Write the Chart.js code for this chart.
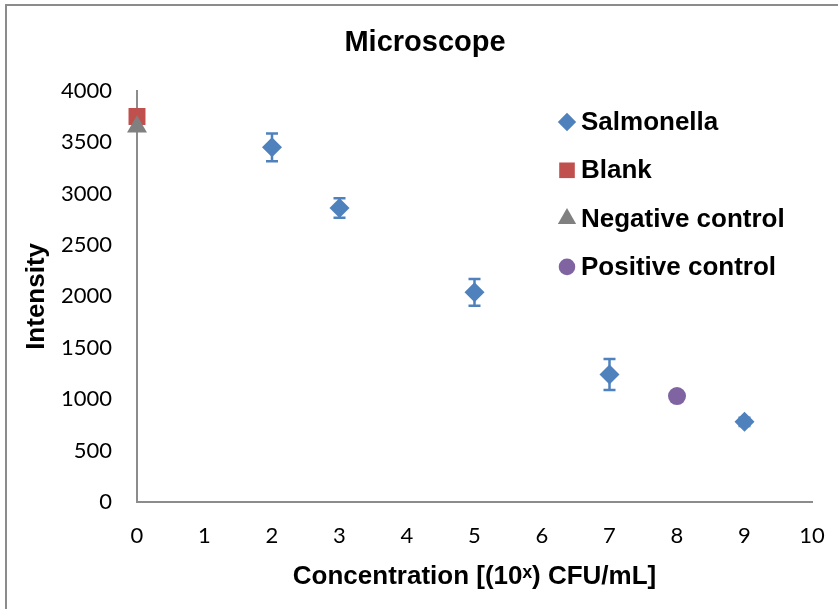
<!DOCTYPE html>
<html>
<head>
<meta charset="utf-8">
<script src="https://cdn.jsdelivr.net/npm/chart.js@4/dist/chart.umd.min.js"></script>
<style>
  html, body { margin: 0; padding: 0; background: #fff; }
  #wrap { position: relative; width: 838px; height: 609px; overflow: hidden; }
  #frame { position: absolute; left: 5px; top: 4px; width: 900px; height: 700px; border: 2px solid #8c8c8c; box-sizing: border-box; }
  canvas { position: absolute; left: 0; top: 0; }
</style>
</head>
<body>
<div id="wrap">
  <div id="frame"></div>
  <canvas id="chart" width="838" height="609"></canvas>
</div>
<script>
// values
const salmonellaX = [2, 3, 5, 7, 9];
const salmonellaY = [3450, 2860, 2040, 1240, 780];
const salmonellaErr = [135, 95, 130, 150, 40];
const blankX = [0];
const blankY = [3750];
const negativeX = [0];
const negativeY = [3650];
const positiveX = [8];
const positiveY = [1030];

const xTicks = [0, 10, 1];        // min, max, step
const yTicks = [0, 4000, 500];

// order: lower number is painted on top (triangle sits over the square)
const series = [
  { label: 'Salmonella', xs: salmonellaX, ys: salmonellaY, err: salmonellaErr, color: '#4f81bd', style: 'rectRot', r: 10, order: 0 },
  { label: 'Blank', xs: blankX, ys: blankY, color: '#c0504d', style: 'rect', r: 12, order: 3 },
  { label: 'Negative control', xs: negativeX, ys: negativeY, color: '#808080', style: 'triangle', r: 11.5, order: 2 },
  { label: 'Positive control', xs: positiveX, ys: positiveY, color: '#8064a2', style: 'circle', r: 9, order: 1 }
];

const tickFont = { family: 'Lato', size: 22 };
const boldFont = (s) => ({ family: '"Liberation Sans", Arial, sans-serif', size: s, weight: 'bold' });
const plain = (v) => String(v);

// error bars, drawn under the markers
const errorBars = {
  id: 'errorBars',
  beforeDatasetsDraw(chart) {
    const { ctx, scales: { x, y } } = chart;
    chart.data.datasets.forEach(ds => {
      if (!ds.errors) return;
      ctx.save();
      ctx.strokeStyle = ds.backgroundColor;
      ctx.lineWidth = 2.5;
      ds.data.forEach((p, i) => {
        const e = ds.errors[i];
        const px = x.getPixelForValue(p.x);
        const top = y.getPixelForValue(p.y + e);
        const bot = y.getPixelForValue(p.y - e);
        ctx.beginPath();
        ctx.moveTo(px, top); ctx.lineTo(px, bot);
        ctx.moveTo(px - 6, top); ctx.lineTo(px + 6, top);
        ctx.moveTo(px - 6, bot); ctx.lineTo(px + 6, bot);
        ctx.stroke();
      });
      ctx.restore();
    });
  }
};

// legend sitting inside the plot, right side
const insideLegend = {
  id: 'insideLegend',
  afterDraw(chart) {
    const { ctx } = chart;
    const f = boldFont(26);
    ctx.save();
    chart.data.datasets.forEach((ds, i) => {
      const cy = 122 + i * 48.3;
      ctx.fillStyle = ds.backgroundColor;
      Chart.helpers.drawPoint(ctx, { pointStyle: ds.pointStyle, radius: ds.pointRadius * 0.92, borderWidth: 0 }, 567, cy);
      ctx.fillStyle = '#000';
      ctx.font = `${f.weight} ${f.size}px ${f.family}`;
      ctx.textBaseline = 'middle';
      ctx.textAlign = 'left';
      ctx.fillText(ds.label, 581, cy + 1);
    });
    ctx.restore();
  }
};

new Chart(document.getElementById('chart'), {
  type: 'scatter',
  data: {
    datasets: series.map(s => ({
      label: s.label,
      data: s.xs.map((v, i) => ({ x: v, y: s.ys[i] })),
      errors: s.err,
      order: s.order,
      backgroundColor: s.color,
      borderColor: s.color,
      borderWidth: 0,
      pointStyle: s.style,
      pointRadius: s.r,
      pointHoverRadius: s.r,
      clip: false
    }))
  },
  options: {
    responsive: false,
    animation: false,
    events: [],
    layout: { padding: { left: 38, right: 26, top: 0, bottom: 0 } },
    plugins: {
      legend: { display: false },
      tooltip: { enabled: false },
      title: {
        display: true,
        text: 'Microscope',
        color: '#000',
        font: boldFont(29),
        padding: { top: 26, bottom: 30 }
      }
    },
    scales: {
      x: {
        type: 'linear',
        min: xTicks[0], max: xTicks[1],
        grid: { display: false },
        border: { display: true, color: '#8c8c8c', width: 2 },
        ticks: { stepSize: xTicks[2], color: '#000', font: tickFont, padding: 13, callback: plain },
        title: { display: true, text: 'Concentration [(10ˣ) CFU/mL]', color: '#000', font: boldFont(26), padding: { top: 0, bottom: 17 } },
        afterFit(scale) { scale.height = 107; }
      },
      y: {
        min: yTicks[0], max: yTicks[1],
        grid: { display: false },
        border: { display: true, color: '#8c8c8c', width: 2 },
        ticks: { stepSize: yTicks[2], color: '#000', font: tickFont, padding: 17, callback: plain },
        title: { display: true, text: 'Intensity', color: '#000', font: boldFont(26), padding: { top: -17, bottom: 0 } },
        afterFit(scale) { scale.width = 99; }
      }
    }
  },
  plugins: [errorBars, insideLegend]
});
</script>
</body>
</html>
